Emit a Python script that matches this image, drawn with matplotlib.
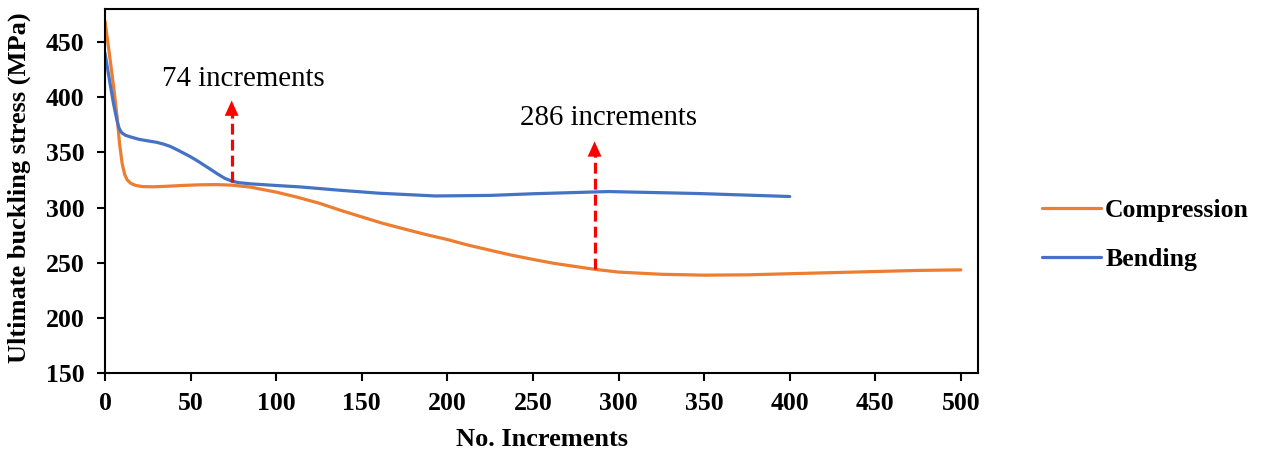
import matplotlib
matplotlib.use("Agg")
import matplotlib.pyplot as plt

# ultimate buckling stress vs number of increments
comp_x = [0, 2.5, 5, 7, 8.5, 10, 11.5, 13, 15, 18, 22, 28, 35, 45, 55, 65, 74, 85,
          100, 112, 125, 137, 150, 162, 175, 187, 200, 212, 225, 237, 250, 262,
          275, 286, 300, 325, 350, 375, 400, 425, 450, 475, 500]
comp_y = [469, 440, 410, 383, 358, 340, 330, 325, 322, 320, 319, 318.8, 319.2,
          320, 320.6, 320.8, 320.3, 318.5, 314, 309.5, 304, 297.8, 291.5, 285.8,
          280.5, 275.7, 271, 266, 261.3, 257, 253, 249.5, 246.5, 244, 241.5, 239.5,
          238.7, 239, 240, 241, 242, 243, 243.5]

bend_x = [0, 3, 5, 7, 8, 9, 10, 12, 15, 20, 26, 30, 34, 38, 42, 46, 50, 54, 58,
          62, 66, 70, 74, 78, 85, 100, 114, 137, 160, 193, 225, 250, 294, 347, 400]
bend_y = [440, 412, 394, 379, 373, 369.5, 367.5, 365.5, 364, 361.8, 360.2, 359.2,
          357.6, 355.5, 352.5, 349.3, 346, 342.3, 338.3, 334.3, 330.2, 326.5,
          324, 322.6, 321.5, 320, 318.7, 315.7, 313, 310.5, 311, 312.5, 314.5,
          312.7, 310]

# convergence markers: (increments, arrow base, arrow tip, label x, label y)
marks = [(74, 323.5, 397, 81, 410), (286, 244, 360, 294, 374.5)]

plt.rcParams['font.family'] = ['Liberation Serif', 'DejaVu Serif']

fig = plt.figure(figsize=(12.7, 4.57), dpi=100)
ax = fig.add_axes([105/1270, 84/457, 873/1270, 364/457])

ax.plot(comp_x, comp_y, color="#ED7D31", lw=2.3, solid_joinstyle="round",
        solid_capstyle="round", label="Compression")
ax.plot(bend_x, bend_y, color="#4472C4", lw=2.3, solid_joinstyle="round",
        solid_capstyle="round", label="Bending")

for n, y0, y1, tx, ty in marks:
    ax.plot([n, n], [y0, y1 - 10], color="red", lw=2.3, ls=(0, (3.4, 1.6)))
    ax.annotate("", xy=(n, y1), xytext=(n, y1 - 12),
                arrowprops=dict(arrowstyle="-|>,head_length=0.55,head_width=0.25",
                                mutation_scale=20, color="red", lw=0,
                                shrinkA=0, shrinkB=0))
    ax.text(tx, ty, f"{n} increments", fontsize=20.8, ha="center", va="baseline")

ax.set_xlim(0, 510)
ax.set_ylim(150, 480)
ax.set_xticks(range(0, 501, 50))
ax.set_yticks(range(150, 451, 50))

for s in ax.spines.values():
    s.set_linewidth(1.5)
ax.tick_params(direction="out", length=6, width=1.5, labelsize=18.5)
ax.tick_params(axis="x", pad=8)
ax.tick_params(axis="y", pad=9)
for lab in ax.get_xticklabels() + ax.get_yticklabels():
    lab.set_fontweight("bold")

ax.set_xlabel("No. Increments", fontsize=19, fontweight="bold", labelpad=9)
ax.set_ylabel("Ultimate buckling stress (MPa)", fontsize=19, fontweight="bold")
ax.yaxis.set_label_coords(-74/873, 0.51)

leg = ax.legend(loc="center left", bbox_to_anchor=(1.047, 0.38), frameon=False,
                prop=dict(size=18.5, weight="bold"), handlelength=2.3,
                handletextpad=0.15, labelspacing=1.0)

fig.savefig("out.png", dpi=100)
